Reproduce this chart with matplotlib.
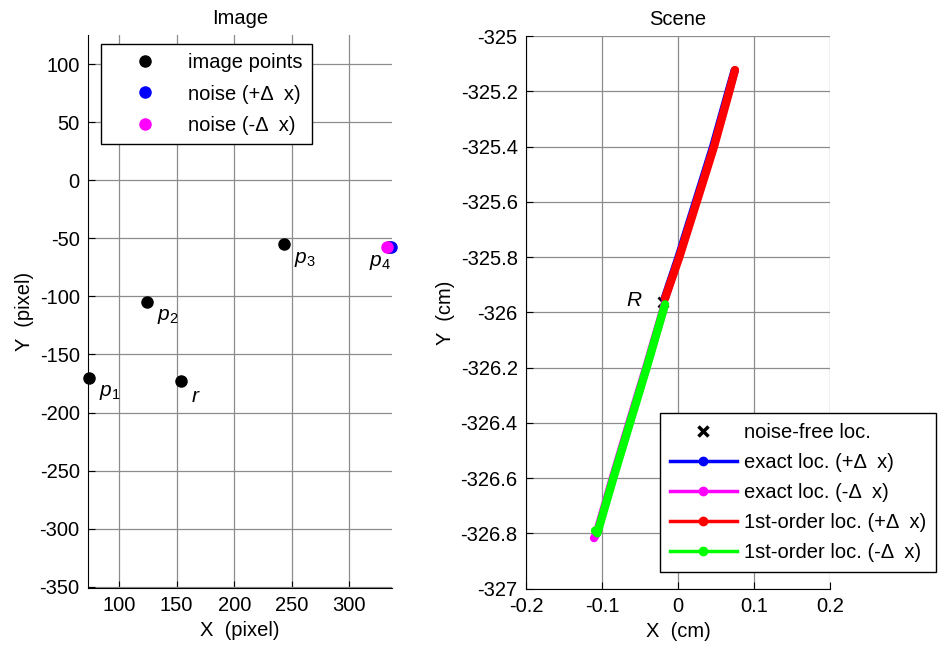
import numpy as np
import matplotlib.pyplot as plt
from matplotlib.lines import Line2D

plt.rcParams['font.family'] = ['Liberation Sans', 'DejaVu Sans']
plt.rcParams['mathtext.fontset'] = 'custom'
plt.rcParams['mathtext.it'] = 'Liberation Sans:italic'
plt.rcParams['mathtext.rm'] = 'Liberation Sans'
plt.rcParams['axes.unicode_minus'] = False
plt.rcParams['font.size'] = 14.5

# image points (pixel)
img_x = [73.7, 124.6, 243.3, 334.0, 153.7]
img_y = [-170.0, -104.6, -54.9, -57.5, -173.0]
img_names = [r'$\mathit{p_1}$', r'$\mathit{p_2}$', r'$\mathit{p_3}$', r'$\mathit{p_4}$', r'$\mathit{r}$']
label_offsets = [(7, -4), (7, -4), (7, -4), (-14, -4), (7, -4)]  # points

noise_pos_x = [336.0]
noise_pos_y = [-57.5]
noise_neg_x = [333.0]
noise_neg_y = [-57.5]

# scene locations (cm)
R_x = [-0.0197]
R_y = [-325.961]

exact_pos_x = [-0.0175, 0.0008, 0.0236, 0.0463, 0.0667, 0.0745]
exact_pos_y = [-325.950, -325.80, -325.60, -325.40, -325.20, -325.125]
exact_neg_x = [-0.0175, -0.0205, -0.0418, -0.0640, -0.0858, -0.1070, -0.1105]
exact_neg_y = [-325.970, -326.00, -326.20, -326.40, -326.60, -326.80, -326.817]
first_pos_x = [-0.017, 0.0017, 0.0246, 0.0474, 0.0675, 0.075]
first_pos_y = [-325.949, -325.80, -325.60, -325.40, -325.20, -325.123]
first_neg_x = [-0.017, -0.0201, -0.0412, -0.0632, -0.0851, -0.1062, -0.1092]
first_neg_y = [-325.971, -326.00, -326.20, -326.40, -326.60, -326.80, -326.790]

grid_col = '#8c8c8c'


def style_axes(ax):
    ax.grid(True, color=grid_col, linewidth=0.9)
    ax.set_axisbelow(True)
    ax.spines['top'].set_visible(False)
    ax.spines['right'].set_visible(False)
    ax.tick_params(direction='in', length=5, width=0.8, labelsize=14.5, pad=6)


fig = plt.figure(figsize=(9.38, 6.53), dpi=100)
ax1 = fig.add_axes([88 / 938, 65 / 653, 304 / 938, 553 / 653])
ax2 = fig.add_axes([526 / 938, 64.3 / 653, 304 / 938, 552.7 / 653])

# ---- Image ----
h1, = ax1.plot(img_x, img_y, 'o', color='k', ms=8, clip_on=False, zorder=3)
h2, = ax1.plot(noise_pos_x, noise_pos_y, 'o', color='b', ms=8, clip_on=False, zorder=4)
h3, = ax1.plot(noise_neg_x, noise_neg_y, 'o', color='#ff00ff', ms=8, clip_on=False, zorder=5)
for x, y, s, off in zip(img_x, img_y, img_names, label_offsets):
    ax1.annotate(s, (x, y), xytext=off, textcoords='offset points',
                 ha='left', va='top', fontsize=15)
ax1.set_xlim(73, 337)
ax1.set_ylim(-351, 125)
ax1.set_xticks(np.arange(100, 301, 50))
ax1.set_yticks(np.arange(-350, 101, 50))
style_axes(ax1)
ax1.set_title('Image', fontsize=14.5, pad=8)
ax1.set_xlabel('X  (pixel)', fontsize=14.5)
ax1.set_ylabel('Y  (pixel)', fontsize=14.5)
leg1 = ax1.legend([h1, h2, h3], ['image points', 'noise (+Δ  x)', 'noise (-Δ  x)'],
                  loc='upper left', bbox_to_anchor=(0.042, 0.983), borderaxespad=0,
                  fancybox=False, edgecolor='k', framealpha=1, handlelength=3.5,
                  handletextpad=0.4, labelspacing=0.6, borderpad=0.45, fontsize=14.5)
leg1.get_frame().set_linewidth(1.0)

# ---- Scene ----
ax2.plot(R_x, R_y, 'x', color='k', ms=7, mew=2, zorder=2)
ax2.plot(exact_pos_x, exact_pos_y, color='b', lw=6, solid_capstyle='round', zorder=3)
ax2.plot(exact_neg_x, exact_neg_y, color='#ff00ff', lw=6, solid_capstyle='round', zorder=3)
ax2.plot(first_pos_x, first_pos_y, color='r', lw=6, solid_capstyle='round', zorder=4)
ax2.plot(first_neg_x, first_neg_y, color='#00ff00', lw=6, solid_capstyle='round', zorder=4)
ax2.annotate('$\\mathit{R}$', (R_x[0], R_y[0]), xytext=(-15, 1), textcoords='offset points',
             ha='right', va='center', fontsize=15)
ax2.set_xlim(-0.2, 0.2)
ax2.set_ylim(-327, -325)
ax2.set_xticks(np.arange(-0.2, 0.21, 0.1))
ax2.set_yticks(np.arange(-327, -324.9, 0.2))
ax2.set_xticklabels(['-0.2', '-0.1', '0', '0.1', '0.2'])
ax2.set_yticklabels(['-327', '-326.8', '-326.6', '-326.4', '-326.2', '-326',
                     '-325.8', '-325.6', '-325.4', '-325.2', '-325'])
style_axes(ax2)
ax2.set_title('Scene', fontsize=14.5, pad=8)
ax2.set_xlabel('X  (cm)', fontsize=14.5)
ax2.set_ylabel('Y  (cm)', fontsize=14.5)

handles = [
    Line2D([], [], color='k', marker='x', ls='none', ms=7, mew=2.5),
    Line2D([], [], color='b', lw=2.5, marker='.', ms=12),
    Line2D([], [], color='#ff00ff', lw=2.5, marker='.', ms=12),
    Line2D([], [], color='r', lw=2.5, marker='.', ms=12),
    Line2D([], [], color='#00ff00', lw=2.5, marker='.', ms=12),
]
labels = ['noise-free loc.', 'exact loc. (+Δ  x)', 'exact loc. (-Δ  x)',
          '1st-order loc. (+Δ  x)', '1st-order loc. (-Δ  x)']
leg2 = ax2.legend(handles, labels, loc='lower left', bbox_to_anchor=(0.441, 0.030),
                  borderaxespad=0, fancybox=False, edgecolor='k', framealpha=1,
                  handlelength=3.3, handletextpad=0.35, labelspacing=0.55,
                  borderpad=0.5, fontsize=14.5)
leg2.get_frame().set_linewidth(1.0)

fig.savefig('out.png', dpi=100)
